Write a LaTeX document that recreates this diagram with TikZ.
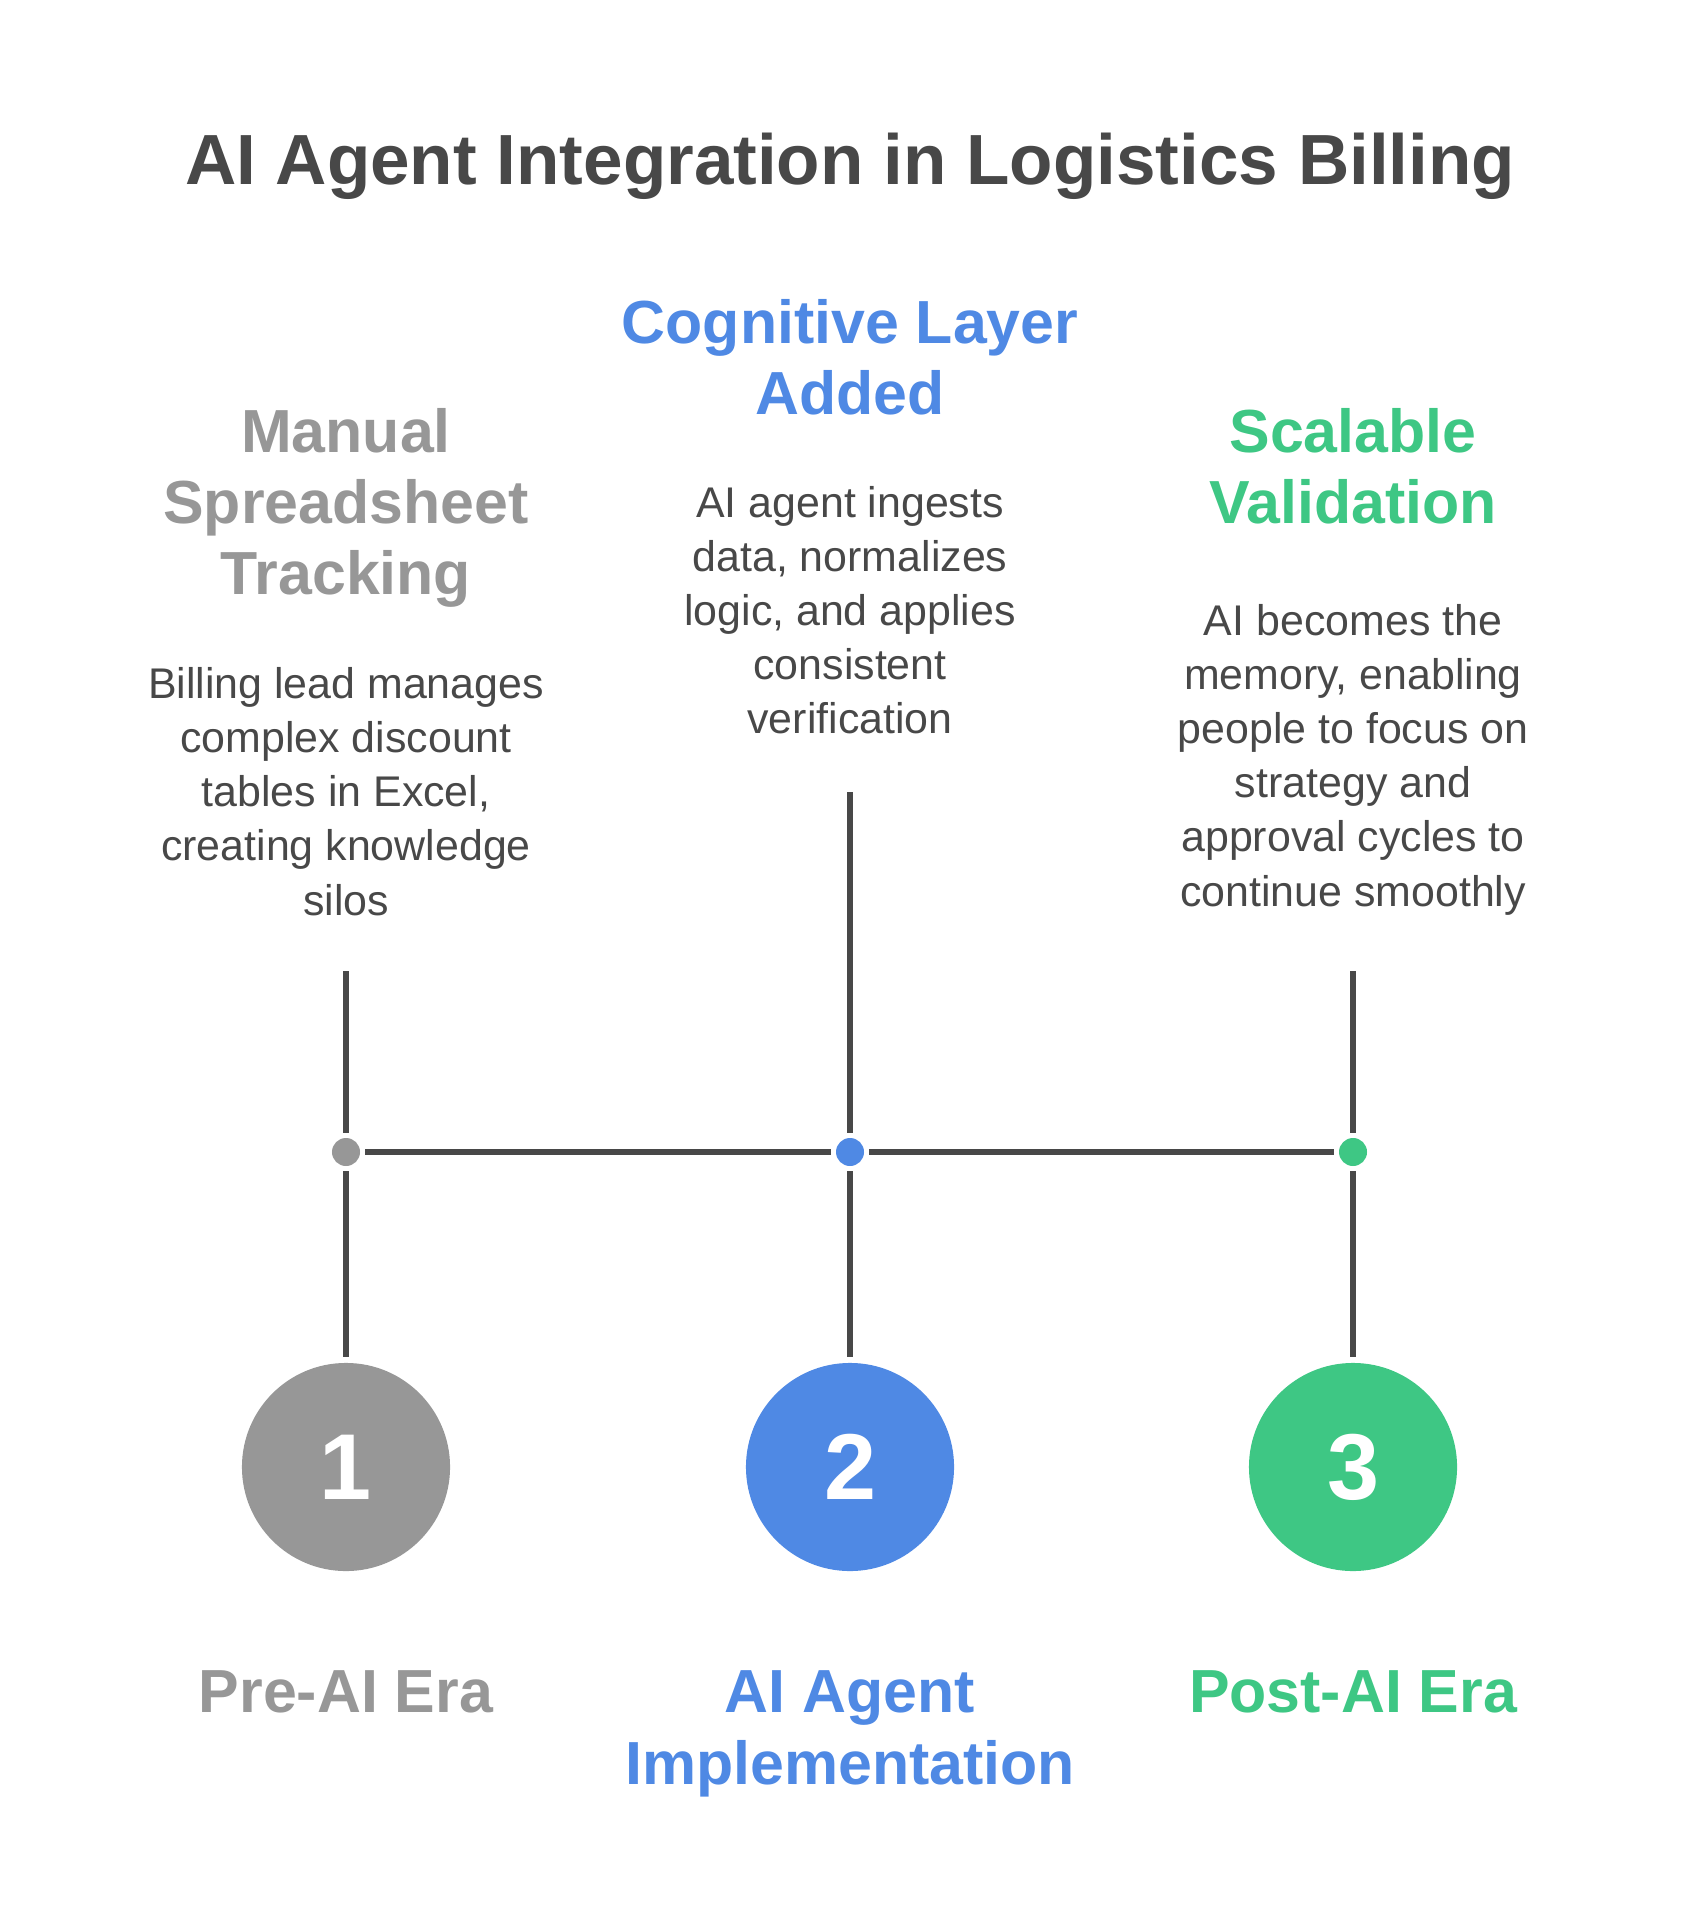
\documentclass[tikz,border=0pt]{standalone}
\usepackage{fontspec}
\setmainfont{Liberation Sans}
\definecolor{txtdark}{HTML}{484848}
\definecolor{eragray}{HTML}{979797}
\definecolor{erablue}{HTML}{4F89E4}
\definecolor{eragreen}{HTML}{3EC784}
\begin{document}
\begin{tikzpicture}[x=0.01cm, y=-0.01cm,
    head/.style={anchor=base, align=center, font=\fontsize{17.3}{20.3}\selectfont\bfseries},
    desc/.style={anchor=base, align=center, text=txtdark, font=\fontsize{12.2}{15.4}\selectfont},
    dotnode/.style={circle, inner sep=0pt, minimum size=0.28cm, outer sep=0.05cm},
    numcircle/.style={circle, inner sep=0pt, minimum size=2.08cm, outer sep=0.06cm, text=white,
        font=\fontsize{26.6}{30}\selectfont\bfseries},
    stem/.style={txtdark, line width=0.06cm}]
    \useasboundingbox (0,0) rectangle (1700,1910);

    % Title
    \node[anchor=base, text=txtdark, font=\fontsize{20.2}{24}\selectfont\bfseries] (title) at (850,185)
        {AI Agent Integration in Logistics Billing};

    % Column headings (anchored at the last line)
    \node[head, text=eragray] (head1) at (346,595) {Manual\\Spreadsheet\\Tracking};
    \node[head, text=erablue] (head2) at (850,415) {Cognitive Layer\\Added};
    \node[head, text=eragreen] (head3) at (1353,524) {Scalable\\Validation};

    % Descriptions
    \node[desc] (desc1) at (346,915) {Billing lead manages\\complex discount\\tables in Excel,\\creating knowledge\\silos};
    \node[desc] (desc2) at (850,734) {AI agent ingests\\data, normalizes\\logic, and applies\\consistent\\verification};
    \node[desc] (desc3) at (1353,906) {AI becomes the\\memory, enabling\\people to focus on\\strategy and\\approval cycles to\\continue smoothly};

    % Timeline
    \coordinate (top1) at (346,971);
    \coordinate (top2) at (850,792);
    \coordinate (top3) at (1353,971);
    \node[dotnode, fill=eragray] (dot1) at (346,1152) {};
    \node[dotnode, fill=erablue] (dot2) at (850,1152) {};
    \node[dotnode, fill=eragreen] (dot3) at (1353,1152) {};

    % Numbered circles
    \node[numcircle, fill=eragray] (num1) at (346,1467) {1};
    \node[numcircle, fill=erablue] (num2) at (850,1467) {2};
    \node[numcircle, fill=eragreen] (num3) at (1353,1467) {3};

    % Connectors
    \draw[stem] (top1) -- (dot1) -- (num1);
    \draw[stem] (top2) -- (dot2) -- (num2);
    \draw[stem] (top3) -- (dot3) -- (num3);
    \draw[stem] (dot1) -- (dot2);
    \draw[stem] (dot2) -- (dot3);

    % Era labels
    \node[head, text=eragray] (era1) at (346,1712) {Pre-AI Era};
    \node[head, text=erablue] (era2) at (850,1784) {AI Agent\\Implementation};
    \node[head, text=eragreen] (era3) at (1353,1712) {Post-AI Era};
\end{tikzpicture}
\end{document}
